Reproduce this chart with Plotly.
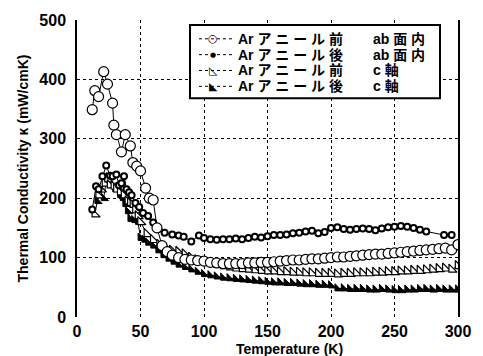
import plotly.graph_objects as go

# ---- data ----
T_a = [12, 14, 17, 21, 24, 28, 29, 31, 35, 38, 42, 44, 47, 50, 54, 57, 60, 63, 67, 71,
       75, 80, 85, 90, 95, 100, 105, 110, 115, 120, 125, 130, 135, 140, 145, 150, 155, 160,
       165, 170, 175, 180, 185, 190, 195, 200, 205, 210, 215, 220, 225, 230, 235, 240, 245,
       250, 255, 260, 265, 270, 275, 280, 285, 290, 295, 300]
k_a = [349, 381, 371, 413, 392, 360, 323, 307, 278, 307, 288, 260, 254, 246, 217, 200, 197, 150, 120, 110,
       104, 100, 97, 96, 95, 94, 92, 91, 90, 90, 90, 90, 91, 91, 92, 92, 93, 94,
       95, 96, 96, 97, 98, 98, 99, 100, 101, 101, 102, 103, 104, 105, 106, 106, 107,
       108, 109, 110, 111, 112, 113, 114, 115, 116, 113, 122]

T_b = [12, 15, 17, 20, 23, 26, 28, 31, 33, 35, 37, 39, 41, 43, 46, 49, 52, 56, 60, 64,
       69, 75, 80, 84, 90, 96, 100, 105, 110, 115, 120, 125, 130, 135, 140, 145, 150, 155,
       160, 165, 170, 175, 180, 185, 190, 195, 200, 205, 210, 215, 220, 225, 230, 235, 240,
       245, 250, 255, 260, 265, 270, 275, 289, 295]
k_b = [181, 220, 215, 237, 255, 238, 237, 240, 222, 225, 237, 215, 210, 205, 192, 185, 175, 170, 159, 148,
       142, 139, 137, 135, 127, 137, 133, 131, 130, 131, 131, 132, 131, 133, 135, 134, 136, 138,
       138, 139, 141, 142, 144, 145, 141, 143, 150, 151, 148, 147, 148, 149, 148, 146, 149,
       151, 152, 153, 152, 150, 147, 144, 138, 138]

T_c = [14, 17, 19, 22, 24, 26, 29, 31, 34, 37, 40, 42, 44, 46, 48, 50, 55, 60, 65, 70,
       75, 80, 85, 90, 95, 100, 105, 110, 115, 120, 125, 130, 135, 140, 145, 150, 155, 160,
       165, 170, 175, 180, 185, 190, 195, 200, 205, 210, 215, 220, 225, 230, 235, 240, 245,
       250, 255, 260, 265, 270, 275, 280, 285, 290, 295, 300]
k_c = [173, 205, 215, 225, 232, 222, 220, 215, 210, 205, 195, 192, 189, 180, 170, 160, 140, 130, 122, 117,
       112, 110, 106, 100, 96, 93, 90, 88, 86, 84, 82, 81, 80, 79, 78, 77, 77, 76,
       76, 75, 75, 74, 74, 73, 73, 73, 72, 73, 73, 74, 74, 74, 75, 75, 76,
       76, 77, 77, 78, 78, 79, 80, 81, 82, 80, 86]

T_d = [16, 18, 21, 23, 25, 27, 30, 32, 34, 36, 38, 40, 42, 45, 48, 50, 53, 56, 60, 64,
       68, 72, 76, 80, 85, 90, 95, 100, 105, 110, 115, 120, 125, 130, 135, 140, 145, 150,
       155, 160, 165, 170, 175, 180, 185, 190, 195, 200, 205, 210, 215, 220, 225, 230, 235,
       240, 245, 250, 255, 260, 265, 270, 275, 280, 285, 290, 295, 300]
k_d = [195, 215, 200, 228, 235, 225, 215, 218, 205, 200, 190, 178, 165, 163, 160, 133, 130, 125, 120, 112,
       104, 98, 93, 88, 84, 80, 76, 72, 70, 68, 66, 65, 64, 63, 62, 61, 60, 59,
       58, 58, 57, 57, 56, 55, 55, 54, 54, 53, 48, 48, 47, 47, 47, 46, 46,
       47, 46, 45, 45, 46, 46, 47, 47, 46, 47, 46, 46, 46]

labels_left = ["Ar ア ニ ー ル 前", "Ar ア ニ ー ル 後", "Ar ア ニ ー ル 前", "Ar ア ニ ー ル 後"]
labels_right = ["ab 面 内", "ab 面 内", "c 軸", "c 軸"]
legend_glyphs = ["○", "●", "◺", "◣"]
x_ticks = [0, 50, 100, 150, 200, 250, 300]
y_ticks = [0, 100, 200, 300, 400, 500]

assert len(T_a) == len(k_a) and len(T_b) == len(k_b)
assert len(T_c) == len(k_c) and len(T_d) == len(k_d)

FONT = "Liberation Sans, Arial, Noto Sans CJK JP"
LW = 1

fig = go.Figure()
fig.add_trace(go.Scatter(x=T_d, y=k_d, mode="lines+markers",
                         line=dict(color="black", width=LW),
                         marker=dict(symbol="triangle-sw", size=8, color="black",
                                     line=dict(color="black", width=1))))
fig.add_trace(go.Scatter(x=T_c, y=k_c, mode="lines+markers",
                         line=dict(color="black", width=LW),
                         marker=dict(symbol="triangle-sw", size=9, color="white",
                                     line=dict(color="black", width=1.2))))
fig.add_trace(go.Scatter(x=T_b, y=k_b, mode="lines+markers",
                         line=dict(color="black", width=LW),
                         marker=dict(symbol="circle", size=6, color="white",
                                     line=dict(color="black", width=2))))
fig.add_trace(go.Scatter(x=T_a, y=k_a, mode="lines+markers",
                         line=dict(color="black", width=LW),
                         marker=dict(symbol="circle", size=10, color="white",
                                     line=dict(color="black", width=1.2))))

def px_x(p):
    return (p - 77) / 381.0

def px_y(p):
    return (317 - p) / 300.0

shapes = [dict(type="rect", xref="paper", yref="paper",
               x0=px_x(190), x1=px_x(440), y0=px_y(96), y1=px_y(22),
               line=dict(color="black", width=2), fillcolor="white", layer="above")]
annotations = []
row_y = [36, 52, 68, 84]
for i in range(4):
    yy = px_y(row_y[i])
    shapes.append(dict(type="line", xref="paper", yref="paper",
                       x0=px_x(199), x1=px_x(233), y0=yy, y1=yy,
                       line=dict(color="black", width=1, dash="dot"), layer="above"))
    annotations.append(dict(xref="paper", yref="paper", x=px_x(213), y=yy,
                            text=legend_glyphs[i], showarrow=False,
                            xanchor="center", yanchor="middle", borderpad=0,
                            font=dict(family="DejaVu Sans", size=11 if i != 1 else 7, color="black")))
    annotations.append(dict(xref="paper", yref="paper", x=px_x(237), y=yy,
                            text=labels_left[i], showarrow=False,
                            xanchor="left", yanchor="middle", borderpad=0,
                            font=dict(family=FONT, size=14, color="black", weight="bold")))
    annotations.append(dict(xref="paper", yref="paper", x=px_x(372), y=yy,
                            text=labels_right[i], showarrow=False,
                            xanchor="left", yanchor="middle", borderpad=0,
                            font=dict(family=FONT, size=14, color="black", weight="bold")))

annotations.append(dict(xref="paper", yref="paper", x=px_x(22), y=0.5,
                        text="Thermal Conductivity κ (mW/cmK)", textangle=-90, showarrow=False,
                        xanchor="center", yanchor="middle",
                        font=dict(family=FONT, size=14, color="black", weight="bold")))
annotations.append(dict(xref="paper", yref="paper", x=px_x(289), y=px_y(349),
                        text="Temperature (K)", showarrow=False,
                        xanchor="center", yanchor="middle", borderpad=0,
                        font=dict(family=FONT, size=14, color="black", weight="bold")))

fig.update_layout(
    width=483, height=356,
    margin=dict(l=77, r=25, t=17, b=39, pad=0),
    paper_bgcolor="white", plot_bgcolor="white",
    showlegend=False,
    shapes=shapes, annotations=annotations,
)
fig.update_xaxes(range=[0, 300], tickvals=x_ticks, showgrid=True, gridcolor="black",
                 gridwidth=1, griddash="dot", zeroline=False, showline=False,
                 ticks="", ticklabelstandoff=3,
                 tickfont=dict(family=FONT, size=16, color="black", weight="bold"))
fig.update_yaxes(range=[0, 500], tickvals=y_ticks, showgrid=True, gridcolor="black",
                 gridwidth=1, griddash="dot", zeroline=False, showline=True, mirror=True,
                 linecolor="black", linewidth=1.5,
                 ticks="", ticklabelstandoff=6,
                 tickfont=dict(family=FONT, size=16, color="black", weight="bold"))

fig.write_html("out.html")
